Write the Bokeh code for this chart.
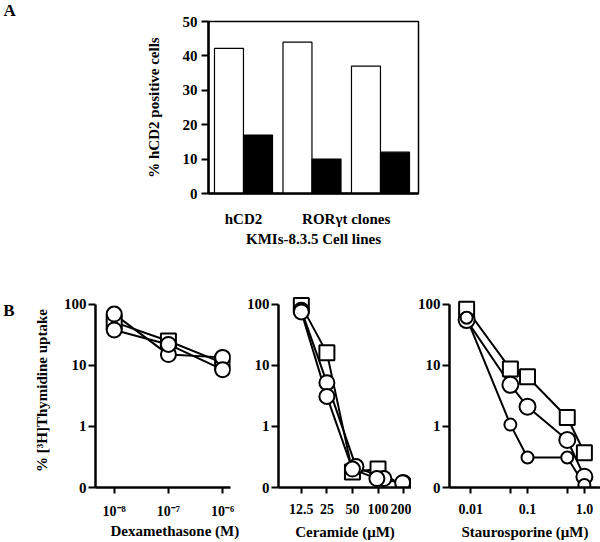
from bokeh.plotting import figure
from bokeh.layouts import column, row
from bokeh.models import FixedTicker, Range1d, ColumnDataSource, Title, LogAxis
from bokeh.transform import dodge
from bokeh.embed import file_html
from bokeh.resources import INLINE

FONT = "Liberation Serif"

# ---------------- Panel A data ----------------
groups = [1, 2, 3]
white_vals = [42.2, 44.0, 37.0]
black_vals = [17.0, 10.0, 12.0]
a_tick_pos = [1, 2.5]
a_tick_labels = ["hCD2", "RORγt clones"]
a_yticks = [0, 10, 20, 30, 40, 50]

# ---------------- Panel B data ----------------
dex_x = [1e-8, 1e-7, 1e-6]
dex_sq = [51, 25, 11]
dex_c1 = [69, 15, 13.5]
dex_c2 = [38, 22, 8.5]
dex_ticks = [1e-8, 1e-7, 1e-6]
dex_labels = ["10⁻⁸", "10⁻⁷", "10⁻⁶"]

cer_x = [12.5, 25, 50, 100, 200]
cer_sq = [95, 16, 0.18, 0.2, 0.1]
cer_c1_x = [12.5, 25, 55, 117, 200]
cer_c1 = [80, 5.2, 0.22, 0.14, 0.12]
cer_c2_x = [12.5, 25, 50, 97, 195]
cer_c2 = [75, 3.1, 0.2, 0.14, 0.12]
cer_ticks = [12.5, 25, 50, 100, 200]
cer_labels = ["12.5", "25", "50", "100", "200"]

sta_x = [0.0085, 0.05, 0.1, 0.5, 1.0]
sta_sq = [83, 8.7, 6.5, 1.4, 0.37]
sta_c1 = [55, 4.8, 2.1, 0.6, 0.15]
sta_c2 = [60, 1.07, 0.31, 0.31, 0.11]
sta_ticks = [0.01, 0.05, 0.1, 0.5, 1.0]
sta_labels = ["0.01", "", "0.1", "", "1.0"]

b_yticks = [0.1, 1, 10, 100]
b_ylabels = ["0", "1", "10", "100"]


def style_axis(ax, size="15px"):
    ax.axis_line_color = "black"
    ax.axis_line_width = 2.5
    ax.major_tick_line_color = "black"
    ax.major_tick_line_width = 2
    ax.major_tick_in = 0
    ax.major_tick_out = 7
    ax.minor_tick_line_color = None
    ax.major_label_text_font = FONT
    ax.major_label_text_font_style = "bold"
    ax.major_label_text_font_size = size
    ax.major_label_text_color = "black"
    ax.axis_label_text_font = FONT
    ax.axis_label_text_font_style = "bold"
    ax.axis_label_text_font_size = "15px"
    ax.axis_label_text_color = "black"


# ---------------- Panel A ----------------
HA = 270
pA = figure(width=600, height=HA, x_range=Range1d(0.489, 3.555), y_range=Range1d(0, 50),
            output_backend="svg", toolbar_location=None,
            min_border_left=208, min_border_right=182, min_border_top=19, min_border_bottom=77)
pA.xgrid.visible = False
pA.ygrid.visible = False
pA.outline_line_color = "black"
pA.outline_line_width = 1.5
pA.outline_line_alpha = 1.0

srcA = ColumnDataSource(dict(g=groups, w=white_vals, b=black_vals))
pA.vbar(x=dodge("g", -0.212, range=pA.x_range), top="w", width=0.423, source=srcA,
        fill_color="white", line_color="black", line_width=1.2)
pA.vbar(x=dodge("g", 0.212, range=pA.x_range), top="b", width=0.423, source=srcA,
        fill_color="black", line_color="black", line_width=1.2)

style_axis(pA.yaxis[0])
pA.yaxis.ticker = FixedTicker(ticks=a_yticks)
pA.yaxis.major_label_standoff = 4
pA.yaxis.axis_label = "% hCD2 positive cells"
pA.yaxis.axis_label_standoff = 18

style_axis(pA.xaxis[0])
pA.xaxis.ticker = FixedTicker(ticks=a_tick_pos)
pA.xaxis.major_label_overrides = dict(zip(a_tick_pos, a_tick_labels))
pA.xaxis.major_tick_out = 0
pA.xaxis.major_label_standoff = 17
pA.xaxis.axis_label = "KMIs-8.3.5 Cell lines"
pA.xaxis.axis_label_standoff = 1

pA.add_layout(Title(text="A", align="left", offset=-205, standoff=0, vertical_align="top",
                    text_font=FONT, text_font_style="bold", text_font_size="17px",
                    text_color="black"), "above")

# ---------------- Panel B ----------------
HB = 272


def make_b(width, bl, br, xr, ticks, labels, xlabel, ylabel=None):
    p = figure(width=width, height=HB, x_axis_type="log", y_axis_type="log",
               x_range=Range1d(*xr), y_range=Range1d(0.1, 150),
               output_backend="svg", toolbar_location=None,
               min_border_left=bl, min_border_right=br, min_border_top=23, min_border_bottom=54)
    p.xgrid.visible = False
    p.ygrid.visible = False
    p.outline_line_color = None
    style_axis(p.yaxis[0])
    p.yaxis.ticker = FixedTicker(ticks=b_yticks)
    p.yaxis.major_label_overrides = dict(zip(b_yticks, b_ylabels))
    p.yaxis.major_label_standoff = 2
    p.yaxis.bounds = (0.1, 100)
    if ylabel:
        p.yaxis.axis_label = ylabel
        p.yaxis.axis_label_standoff = 11
    style_axis(p.xaxis[0], "14px")
    p.xaxis.ticker = FixedTicker(ticks=ticks)
    p.xaxis.major_label_overrides = dict(zip(ticks, labels))
    p.xaxis.major_tick_out = 6
    p.xaxis.major_label_standoff = 10
    if xlabel:
        p.xaxis.axis_label = xlabel
        p.xaxis.axis_label_standoff = 7
    return p


p1 = make_b(243, 93, 13, (10 ** -8.345, 10 ** -5.855), dex_ticks, dex_labels,
            None, "% [³H]Thymidine uptake")
for ys in (dex_sq, dex_c1, dex_c2):
    p1.line(dex_x, ys, line_color="black", line_width=2)
p1.scatter(dex_x, dex_sq, marker="square", size=15, fill_color="white", line_color="black", line_width=2)
p1.scatter(dex_x, dex_c1, marker="circle", size=15, fill_color="white", line_color="black", line_width=2)
p1.scatter(dex_x, dex_c2, marker="circle", size=15, fill_color="white", line_color="black", line_width=2)
# panel letter "B", drawn as a bare outer axis label beside the top of the y axis
b_axis = LogAxis(ticker=FixedTicker(ticks=[80]), major_label_overrides={80: "B"},
                 axis_line_color=None, major_tick_line_color=None, minor_tick_line_color=None,
                 major_tick_out=0, major_label_standoff=16, bounds=(0.1, 100),
                 major_label_text_font=FONT, major_label_text_font_style="bold",
                 major_label_text_font_size="17px", major_label_text_color="black")
p1.add_layout(b_axis, "left")
p1.add_layout(Title(text="Dexamethasone (M)", align="left", offset=15, standoff=2,
                    vertical_align="top", text_font=FONT, text_font_style="bold",
                    text_font_size="15px", text_color="black"), "below")

p2 = make_b(168, 34, 0, (6.73, 248), cer_ticks, cer_labels, "Ceramide (μM)")
p2.line(cer_x, cer_sq, line_color="black", line_width=2)
p2.line(cer_c1_x, cer_c1, line_color="black", line_width=2)
p2.line(cer_c2_x, cer_c2, line_color="black", line_width=2)
p2.scatter(cer_x, cer_sq, marker="square", size=15, fill_color="white", line_color="black", line_width=2)
p2.scatter(cer_c1_x, cer_c1, marker="circle", size=15, fill_color="white", line_color="black", line_width=2)
p2.scatter(cer_c2_x, cer_c2, marker="circle", size=15, fill_color="white", line_color="black", line_width=2)

p3 = make_b(189, 38, 0, (0.00425, 1.92), sta_ticks, sta_labels, "Staurosporine (μM)")
p3.line(sta_x, sta_sq, line_color="black", line_width=2)
p3.line(sta_x, sta_c1, line_color="black", line_width=2)
p3.line(sta_x, sta_c2, line_color="black", line_width=2)
p3.scatter(sta_x, sta_sq, marker="square", size=15, fill_color="white", line_color="black", line_width=2)
p3.scatter(sta_x, sta_c1, marker="circle", size=16, fill_color="white", line_color="black", line_width=2)
p3.scatter(sta_x, sta_c2, marker="circle", size=12, fill_color="white", line_color="black", line_width=2)

layout = column(pA, row(p1, p2, p3, spacing=0), spacing=0)
open("out.html", "w").write(file_html(layout, INLINE))
